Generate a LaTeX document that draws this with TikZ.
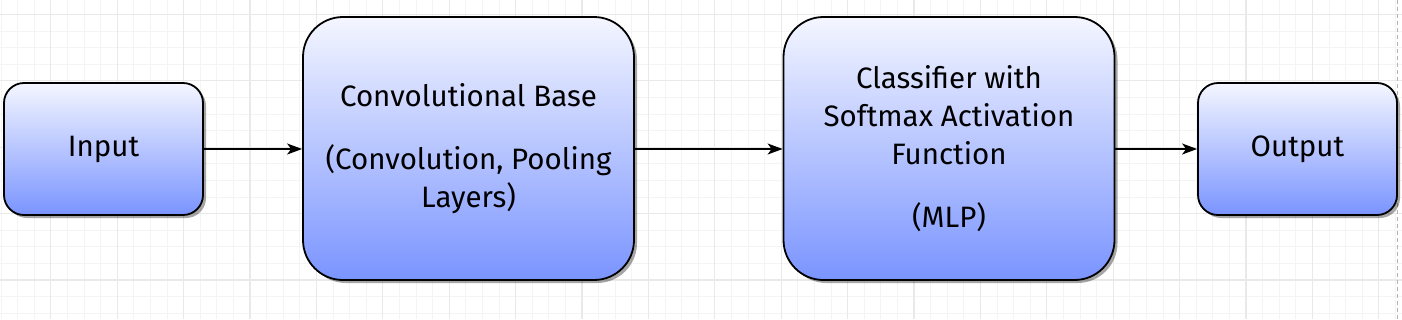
\documentclass[tikz,border=0pt]{standalone}
\usepackage{fontspec}
\setmainfont{Fira Sans}
\usetikzlibrary{arrows.meta,shadows}
\definecolor{gridminor}{RGB}{244,244,244}
\definecolor{gridmajor}{RGB}{233,233,233}
\definecolor{topc}{RGB}{244,246,255}
\definecolor{botc}{RGB}{122,148,255}
\begin{document}
\begin{tikzpicture}[x=1pt,y=-1pt,
  box/.style={draw=black, line width=1.8pt, top color=topc, bottom color=botc,
    drop shadow={shadow xshift=3pt, shadow yshift=-3pt, fill=black, opacity=0.35},
    font=\fontsize{29.5}{38}\selectfont, align=center, inner sep=0pt, rectangle},
  smallbox/.style={box, minimum width=199pt, minimum height=132pt, rounded corners=20pt},
  bigbox/.style={box, minimum width=331pt, minimum height=263pt, rounded corners=40pt},
  arr/.style={line width=1.5pt, -{Stealth[length=15pt,width=11pt,inset=4pt]}},
  gmin/.style={gridminor, line width=1pt},
  gmaj/.style={gridmajor, line width=1.2pt}]
\useasboundingbox (0,0) rectangle (1402,319);
\fill[white] (0,0) rectangle (1402,319);
\foreach \i in {0,...,85} \draw[gmin] ({1+16.6*\i},0) -- ++(0,319);
\foreach \i in {0,...,20} \draw[gmin] (0,{-2.2+16.6*\i}) -- ++(1402,0);
\foreach \i in {0,...,22} \draw[gmaj] ({-15.6+66.4*\i},0) -- ++(0,319);
\foreach \i in {0,...,4} \draw[gmaj] (0,{14.4+66.4*\i}) -- ++(1402,0);
\draw[gray!60, line width=1pt, dash pattern=on 4pt off 3pt] (1397,0) -- (1397,319);

\node[smallbox] (in) at (103.5,149) {Input};
\node[bigbox] (conv) at (468.5,148.5) {Convolutional Base\\[25pt](Convolution, Pooling\\Layers)};
\node[bigbox] (cls) at (949,148.5) {Classifier with\\Softmax Activation\\Function\\[25pt](MLP)};
\node[smallbox] (out) at (1297.5,149) {Output};

\draw[arr] (in.east) -- (in.east -| conv.west);
\draw[arr] (conv.east |- in.east) -- (in.east -| cls.west);
\draw[arr] (cls.east |- out.west) -- (out.west);
\end{tikzpicture}
\end{document}
